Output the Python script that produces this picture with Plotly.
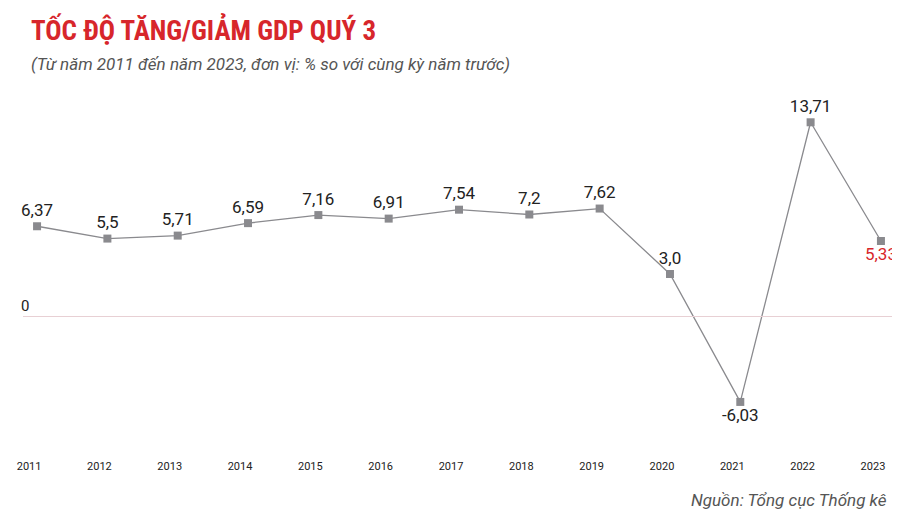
import plotly.graph_objects as go

years = [2011, 2012, 2013, 2014, 2015, 2016, 2017, 2018, 2019, 2020, 2021, 2022, 2023]
growth = [6.37, 5.5, 5.71, 6.59, 7.16, 6.91, 7.54, 7.2, 7.62, 3.0, -6.03, 13.71, 5.33]
labels = ["6,37", "5,5", "5,71", "6,59", "7,16", "6,91", "7,54", "7,2", "7,62", "3,0", "-6,03", "13,71", "5,33"]

positions = ["top center"] * len(years)
positions[10] = "bottom center"
positions[-1] = "bottom center"
colors = ["#222222"] * len(years)
colors[-1] = "#d7262b"

fig = go.Figure()
fig.add_trace(go.Scatter(
    x=years, y=growth, mode="lines+markers+text",
    line=dict(color="#8a8a8e", width=1.3),
    marker=dict(symbol="square", size=8, color="#8a8a8e"),
    text=labels, textposition=positions,
    textfont=dict(family="Roboto", size=17, color=colors),
    cliponaxis=False, hoverinfo="skip",
))

fig.add_hline(y=0, line=dict(color="#e8d0d4", width=1))

fig.update_layout(
    width=900, height=526,
    margin=dict(l=9, r=13, t=96, b=90),
    paper_bgcolor="white", plot_bgcolor="white",
    showlegend=False,
    xaxis=dict(range=[2010.8, 2023.2], tickvals=years, showgrid=False, zeroline=False,
               showline=False, tickfont=dict(family="Roboto", size=11, color="#222"),
               ticklabelstandoff=14, ticklabelshift=-8),
    yaxis=dict(range=[-9, 15], visible=False),
    annotations=[
        dict(text="<b>TỐC ĐỘ TĂNG/GIẢM GDP QUÝ 3</b>", x=0, y=1, xref="paper", yref="paper",
             xanchor="left", yanchor="top", showarrow=False, yshift=93, xshift=6,
             font=dict(family="Roboto Condensed, Roboto", size=27, color="#d7262b")),
        dict(text="<i>(Từ năm 2011 đến năm 2023, đơn vị: % so với cùng kỳ năm trước)</i>",
             x=0, y=1, xref="paper", yref="paper", xanchor="left", yanchor="top",
             showarrow=False, yshift=52, xshift=6,
             font=dict(family="Roboto", size=17, color="#555")),
        dict(text="0", x=2010.8, y=0, xanchor="left", yanchor="bottom", showarrow=False,
             xshift=-4, font=dict(family="Roboto", size=15, color="#222")),
        dict(text="<i>Nguồn: Tổng cục Thống kê</i>", x=1, y=0, xref="paper", yref="paper",
             xanchor="right", yanchor="top", showarrow=False, yshift=-44, xshift=-6,
             font=dict(family="Roboto", size=17, color="#555")),
    ],
)

fig.write_html("out.html")
